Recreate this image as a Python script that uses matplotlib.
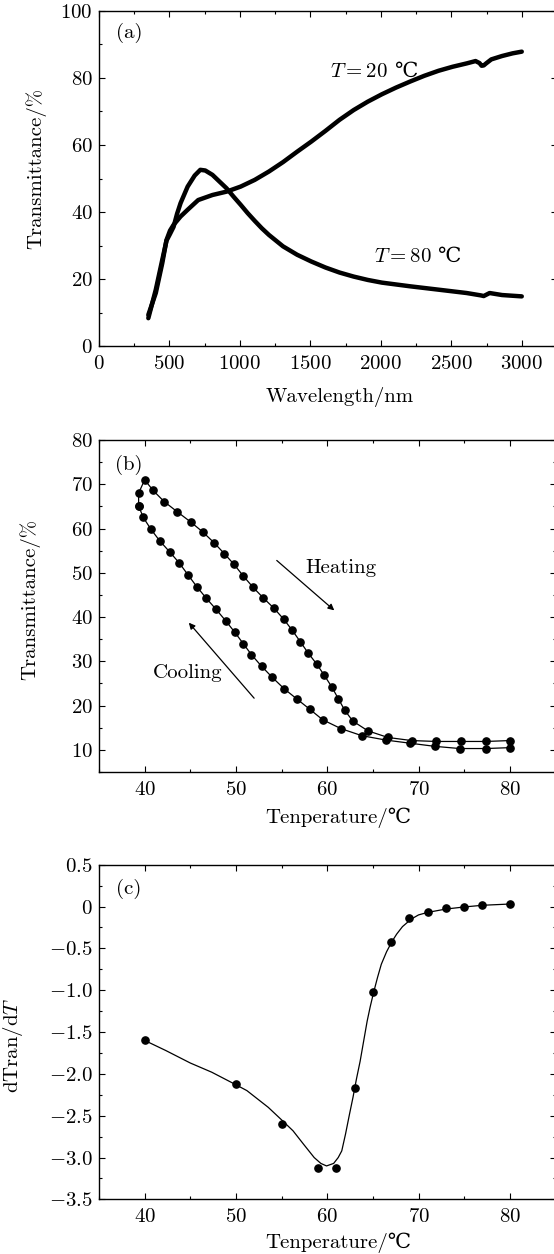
import matplotlib
matplotlib.use("Agg")
import matplotlib.pyplot as plt
from matplotlib.ticker import MultipleLocator, FixedLocator, FixedFormatter

plt.rcParams['font.family'] = ['cmr10', 'STIXGeneral', 'DejaVu Serif']
plt.rcParams['mathtext.fontset'] = 'cm'
plt.rcParams['axes.unicode_minus'] = False
plt.rcParams['font.size'] = 15

# (a) transmittance spectra
wl_20 = [350, 403, 449, 479, 504, 529, 579, 629, 704, 805, 905, 1005, 1105, 1206,
         1306, 1406, 1506, 1607, 1707, 1807, 1907, 2007, 2108, 2208, 2308, 2409,
         2509, 2609, 2672, 2700, 2715, 2730, 2747, 2784, 2860, 2935, 3000]
tr_20 = [9.4, 15.9, 24.8, 31.7, 34.5, 36.2, 38.7, 40.7, 43.6, 45.1, 46.1, 47.6, 49.6, 52.1,
         54.9, 58.0, 61.0, 64.2, 67.5, 70.4, 72.9, 75.1, 77.1, 78.9, 80.6, 82.1,
         83.3, 84.3, 85.0, 84.4, 83.6, 83.7, 84.3, 85.5, 86.5, 87.3, 87.8]
wl_80 = [350, 403, 449, 479, 504, 529, 554, 579, 629, 679, 719, 754, 805, 855, 905,
         955, 1005, 1055, 1105, 1155, 1206, 1306, 1406, 1506, 1607, 1707, 1807, 1907,
         2007, 2208, 2409, 2609, 2709, 2730, 2772, 2860, 3000]
tr_80 = [8.4, 16.9, 25.8, 31.5, 33.5, 35.6, 39.5, 42.7, 47.6, 50.9, 52.6, 52.4, 51.1, 49.1, 47.1,
         44.6, 42.2, 39.7, 37.4, 35.2, 33.2, 29.8, 27.3, 25.3, 23.5, 22.0, 20.8, 19.8,
         19.0, 17.9, 16.9, 15.9, 15.2, 15.0, 15.9, 15.3, 14.9]

# (b) hysteresis loop
heat_T = [39.34, 39.34, 40.0, 40.93, 42.13, 43.56, 45.03, 46.38, 47.6, 48.74, 49.79, 50.8,
          51.84, 52.96, 54.16, 55.24, 56.17, 57.06, 57.9, 58.84, 59.69, 60.5, 61.2,
          61.9, 62.8, 64.45, 66.65, 69.25, 71.95, 74.6, 77.37, 80.0]
heat_tr = [65.1, 68.0, 71.0, 68.6, 66.1, 63.8, 61.5, 59.2, 56.8, 54.3, 51.9, 49.3,
           46.8, 44.4, 42.0, 39.5, 37.0, 34.4, 31.9, 29.4, 26.8, 24.2, 21.6,
           19.0, 16.5, 14.3, 12.8, 12.1, 11.9, 11.9, 11.9, 12.1]
cool_T = [80.0, 77.37, 74.5, 71.76, 69.09, 66.46, 63.8, 61.5, 59.5, 58.07, 56.67, 55.28,
          53.97, 52.8, 51.7, 50.8, 49.86, 48.86, 47.8, 46.73, 45.7, 44.76, 43.8, 42.75,
          41.66, 40.7, 39.85, 39.34]
cool_tr = [10.5, 10.3, 10.3, 10.8, 11.5, 12.2, 13.2, 14.8, 16.8, 19.2, 21.5, 23.8,
           26.4, 28.9, 31.5, 34.0, 36.6, 39.2, 41.8, 44.3, 46.9, 49.5, 52.2, 54.7,
           57.2, 59.8, 62.5, 65.1]

# (c) derivative
d_T = [40, 50, 55, 59, 61, 63, 65, 67, 69, 71, 73, 75, 77, 80]
d_val = [-1.60, -2.12, -2.60, -3.13, -3.12, -2.17, -1.02, -0.42, -0.14, -0.07, -0.02, 0.0, 0.02, 0.03]
fit_T = [40, 42.3, 45.0, 47.35, 50.0, 51.2, 53.54, 55.1, 56.25, 57.4, 58.57, 59.3, 59.92, 60.7,
         61.2, 61.59, 62.0, 62.44, 62.82, 63.2, 63.6, 64.0, 64.37, 64.7, 65.07, 65.5, 65.92,
         66.5, 67.08, 67.6, 68.24, 69.2, 70.0, 71.0, 73.0, 75.0, 77.0, 80.0]
fit_val = [-1.60, -1.72, -1.87, -1.98, -2.13, -2.20, -2.40, -2.56, -2.68, -2.84, -3.00, -3.07, -3.10, -3.07,
           -3.00, -2.92, -2.72, -2.48, -2.28, -2.06, -1.85, -1.60, -1.37, -1.20, -1.03, -0.85, -0.69,
           -0.54, -0.42, -0.33, -0.24, -0.15, -0.10, -0.07, -0.03, -0.005, 0.015, 0.03]

W, H = 554, 1254
fig = plt.figure(figsize=(W / 100, H / 100), dpi=100)


def make_axes(top, bottom, width):
    return fig.add_axes([99 / W, 1 - bottom / H, width / W, (bottom - top) / H])


def style(ax, ylab_x, ylab_y, xlab_y):
    ax.tick_params(which='both', direction='in', top=True, right=True, labelsize=15)
    ax.tick_params(axis='x', which='both', pad=6.5)
    ax.tick_params(axis='y', which='both', pad=4.5)
    ax.tick_params(which='major', length=4.5, width=0.8)
    ax.tick_params(which='minor', length=2.5, width=0.8)
    for s in ax.spines.values():
        s.set_linewidth(1.0)
    ax.yaxis.set_label_coords(ylab_x, ylab_y)
    ax.xaxis.set_label_coords(0.525, xlab_y)


def temp_label(ax, x, y, s):
    # math part, then the degree sign right after it on the same baseline
    t = ax.text(x, y, s, ha='left', va='baseline')
    ax.annotate('℃', xy=(1, y), xycoords=(t, 'data'), xytext=(4, 0), textcoords='offset points',
                ha='left', va='baseline')


# panel (a)
ax1 = make_axes(10.7, 346.4, 458)
ax1.plot(wl_20, tr_20, '-', color='black', lw=3.2, solid_capstyle='round')
ax1.plot(wl_80, tr_80, '-', color='black', lw=3.2, solid_capstyle='round')
ax1.set_xlim(0, 3250)
ax1.set_ylim(0, 100)
ax1.xaxis.set_major_locator(FixedLocator([0, 500, 1000, 1500, 2000, 2500, 3000]))
ax1.xaxis.set_major_formatter(FixedFormatter(['$0$', '$500$', '$1000$', '$1500$', '$2000$', '$2500$', '$3000$']))
ax1.xaxis.set_minor_locator(MultipleLocator(250))
ax1.yaxis.set_major_locator(FixedLocator([0, 20, 40, 60, 80, 100]))
ax1.yaxis.set_major_formatter(FixedFormatter(['$0$', '$20$', '$40$', '$60$', '$80$', '$100$']))
ax1.yaxis.set_minor_locator(MultipleLocator(10))
ax1.set_xlabel('Wavelength/nm')
ax1.set_ylabel('Transmittance/%')
style(ax1, -0.116, 0.53, -0.12)
ax1.text(0.066, 0.934, '(a)', transform=ax1.transAxes, ha='center', va='center')
temp_label(ax1, 1641, 80.2, '$T=20$')
temp_label(ax1, 1948, 25.1, '$T=80$')

# panel (b)
ax2 = make_axes(440, 772, 456.5)
ax2.plot(heat_T, heat_tr, '-o', color='black', lw=0.9, ms=5.2)
ax2.plot(cool_T, cool_tr, '-o', color='black', lw=0.9, ms=5.2)
ax2.set_xlim(35, 85)
ax2.set_ylim(5, 80)
ax2.xaxis.set_major_locator(FixedLocator([40, 50, 60, 70, 80]))
ax2.xaxis.set_major_formatter(FixedFormatter(['$40$', '$50$', '$60$', '$70$', '$80$']))
ax2.xaxis.set_minor_locator(MultipleLocator(5))
ax2.yaxis.set_major_locator(FixedLocator([10, 20, 30, 40, 50, 60, 70, 80]))
ax2.yaxis.set_major_formatter(FixedFormatter(['$10$', '$20$', '$30$', '$40$', '$50$', '$60$', '$70$', '$80$']))
ax2.yaxis.set_minor_locator(MultipleLocator(5))
ax2.set_xlabel('Tenperature/℃')
ax2.set_ylabel('Transmittance/%')
style(ax2, -0.128, 0.52, -0.108)
ax2.text(0.066, 0.924, '(b)', transform=ax2.transAxes, ha='center', va='center')
ax2.annotate('', xy=(61.0, 41.1), xytext=(54.24, 53.2),
             arrowprops=dict(arrowstyle='-|>', color='black', lw=0.9, mutation_scale=9))
ax2.annotate('', xy=(44.64, 39.2), xytext=(52.19, 21.2),
             arrowprops=dict(arrowstyle='-|>', color='black', lw=0.9, mutation_scale=9))
ax2.text(61.47, 51.0, 'Heating', ha='center', va='center')
ax2.text(44.72, 27.3, 'Cooling', ha='center', va='center')

# panel (c)
ax3 = make_axes(864.7, 1199.4, 456.5)
ax3.plot(fit_T, fit_val, '-', color='black', lw=0.9)
ax3.plot(d_T, d_val, 'o', color='black', ms=5.2)
ax3.set_xlim(35, 85)
ax3.set_ylim(-3.5, 0.5)
ax3.xaxis.set_major_locator(FixedLocator([40, 50, 60, 70, 80]))
ax3.xaxis.set_major_formatter(FixedFormatter(['$40$', '$50$', '$60$', '$70$', '$80$']))
ax3.xaxis.set_minor_locator(MultipleLocator(5))
yt = [-3.5, -3.0, -2.5, -2.0, -1.5, -1.0, -0.5, 0, 0.5]
ax3.yaxis.set_major_locator(FixedLocator(yt))
ax3.yaxis.set_major_formatter(FixedFormatter(['$-3.5$', '$-3.0$', '$-2.5$', '$-2.0$', '$-1.5$',
                                              '$-1.0$', '$-0.5$', '$0$', '$0.5$']))
ax3.yaxis.set_minor_locator(MultipleLocator(0.25))
ax3.set_xlabel('Tenperature/℃')
ax3.set_ylabel('dTran/d$T$')
style(ax3, -0.163, 0.46, -0.1)
ax3.text(0.066, 0.928, '(c)', transform=ax3.transAxes, ha='center', va='center')

fig.savefig('out.png', dpi=100)
